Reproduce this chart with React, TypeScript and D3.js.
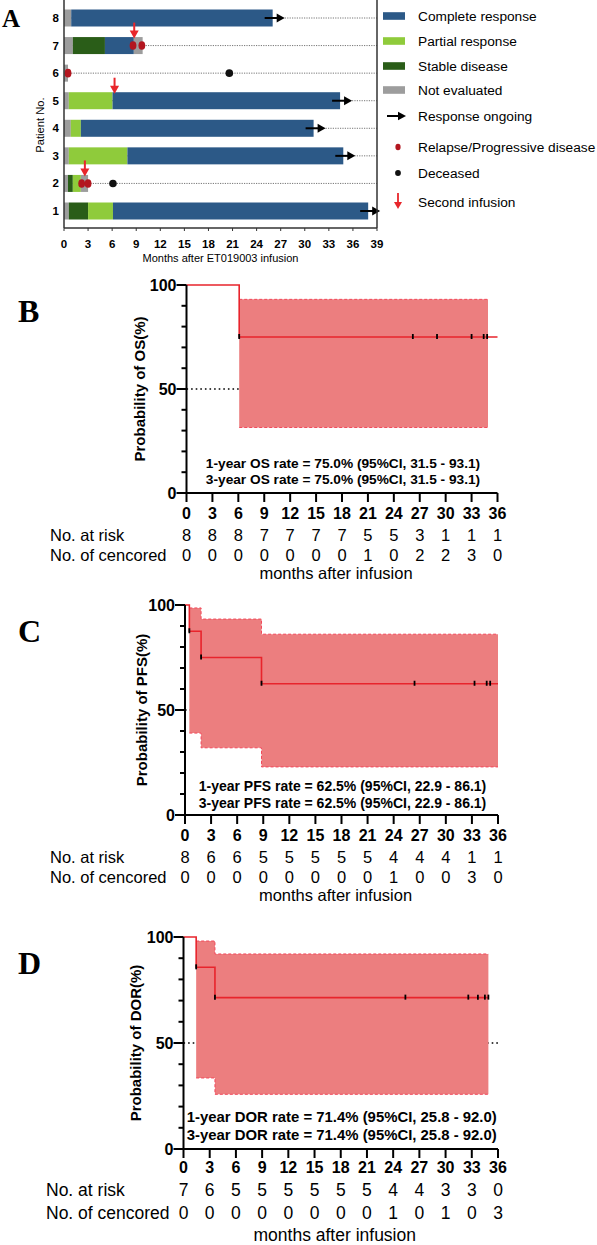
import React from 'react';
import * as d3 from 'd3';

// ---------- Panel A data ----------
const patientIds = [1, 2, 3, 4, 5, 6, 7, 8];
const swimTicks = d3.range(0, 40, 3);
// [patient, status, from(month), to(month)]
const swimSegments: [number, string, number, number][] = [
  [1, 'NE', 0, 0.6], [1, 'SD', 0.6, 3.0], [1, 'PR', 3.0, 6.1], [1, 'CR', 6.1, 37.9],
  [2, 'NE', 0, 0.5], [2, 'SD', 0.5, 1.1], [2, 'PR', 1.1, 2.1], [2, 'NE', 2.1, 3.0],
  [3, 'NE', 0, 0.6], [3, 'PR', 0.6, 7.9], [3, 'CR', 7.9, 34.8],
  [4, 'NE', 0, 0.85], [4, 'PR', 0.85, 2.1], [4, 'CR', 2.1, 31.1],
  [5, 'NE', 0, 0.6], [5, 'PR', 0.6, 6.05], [5, 'CR', 6.05, 34.4],
  [6, 'NE', 0, 0.5],
  [7, 'NE', 0, 1.1], [7, 'SD', 1.1, 5.1], [7, 'CR', 5.1, 8.7], [7, 'NE', 8.7, 9.8],
  [8, 'NE', 0, 0.9], [8, 'CR', 0.9, 26.0],
];
const ongoing: [number, number][] = [[1, 37.9], [3, 34.8], [4, 31.1], [5, 34.4], [8, 26.0]];
const relapse: [number, number][] = [[2, 2.2], [2, 3.0], [6, 0.5], [7, 8.6], [7, 9.7]];
const deceased: [number, number][] = [[2, 6.1], [6, 20.6]];
const secondInfusion: [number, number][] = [[2, 2.6], [5, 6.3], [7, 8.75]];
const legendLabels = ['Complete response', 'Partial response', 'Stable disease', 'Not evaluated',
  'Response ongoing', 'Relapse/Progressive disease', 'Deceased', 'Second infusion'];
const legendKinds = ['CR', 'PR', 'SD', 'NE', 'arrow', 'relapse', 'dead', 'infusion'];

const STATUS_COLORS: Record<string, string> = { CR: '#2C5987', PR: '#8FCB3B', SD: '#2A5D18', NE: '#9D9D9D' };

// ---------- KM data ----------
const kmTicks = d3.range(0, 37, 3);

const osStepT = [0, 6.1];
const osStepS = [100, 75];
const osEnd = 36;
const osCensor = [6.1, 26.2, 29.0, 33.0, 34.4, 34.8];
const osCiT = [6.1];
const osCiU = [93.1];
const osCiL = [31.5];
const osCiEnd = 34.9;
const osRisk = [8, 8, 8, 7, 7, 7, 7, 5, 5, 3, 1, 1, 1];
const osCens = [0, 0, 0, 0, 0, 0, 0, 1, 0, 2, 2, 3, 0];
const osRefLine = [0, 6.1];

const pfsStepT = [0, 0.5, 1.85, 8.8];
const pfsStepS = [100, 87.5, 75, 62.5];
const pfsEnd = 36;
const pfsCensor = [0.5, 1.85, 8.8, 26.4, 33.3, 34.7, 35.1];
const pfsCiT = [0.5, 1.85, 8.8];
const pfsCiU = [98.6, 93.3, 86.1];
const pfsCiL = [39.0, 32.0, 22.9];
const pfsCiEnd = 36;
const pfsRisk = [8, 6, 6, 5, 5, 5, 5, 5, 4, 4, 4, 1, 1];
const pfsCens = [0, 0, 0, 0, 0, 0, 0, 0, 1, 0, 0, 3, 0];
const pfsRefLine = [0, 36];

const dorStepT = [0, 1.45, 3.6];
const dorStepS = [100, 85.7, 71.4];
const dorEnd = 34.9;
const dorCensor = [1.45, 3.6, 25.4, 32.6, 33.7, 34.5, 34.9];
const dorCiT = [1.45, 3.6];
const dorCiU = [98.1, 92.0];
const dorCiL = [33.5, 25.8];
const dorCiEnd = 34.9;
const dorRisk = [7, 6, 5, 5, 5, 5, 5, 5, 4, 4, 3, 3, 0];
const dorCens = [0, 0, 0, 0, 0, 0, 0, 0, 1, 0, 1, 0, 3];
const dorRefLine = [0, 36];

const SANS = 'Liberation Sans, Arial, sans-serif';
const SERIF = 'Liberation Serif, Times New Roman, serif';
const RED = '#E8242C';
const BAND = '#EC7E7F';
const BAND_EDGE = '#F2485A';

function SwimPanel() {
  const x = d3.scaleLinear().domain([0, 39]).range([64, 377]);
  const y = d3.scaleLinear().domain([1, 8]).range([211, 18]);
  const bh = 17;
  const bottom = 228;
  const legendY = [16, 41, 66, 90, 116, 147, 173, 202];
  return (
    <g>
      <text x={2} y={27} fontFamily={SERIF} fontWeight="bold" fontSize={25}>A</text>
      {patientIds.map(p => (
        <line key={'dl' + p} x1={x(0)} x2={x(39)} y1={y(p)} y2={y(p)} stroke="#666" strokeWidth={0.9} strokeDasharray="1.2,1.2" />
      ))}
      {swimSegments.map((s, i) => (
        <rect key={'s' + i} x={x(s[2])} y={y(s[0]) - bh / 2} width={x(s[3]) - x(s[2])} height={bh} fill={STATUS_COLORS[s[1]]} />
      ))}
      {ongoing.map(([p, t], i) => {
        const xe = x(t);
        const yc = y(p);
        return (
          <g key={'og' + i}>
            <line x1={xe - 8} x2={xe + 6} y1={yc} y2={yc} stroke="#000" strokeWidth={2} />
            <polygon points={`${xe + 12},${yc} ${xe + 4},${yc - 4.5} ${xe + 4},${yc + 4.5}`} fill="#000" />
          </g>
        );
      })}
      {relapse.map(([p, t], i) => (
        <ellipse key={'r' + i} cx={x(t)} cy={y(p)} rx={3.4} ry={4.3} fill="#B3161F" />
      ))}
      {deceased.map(([p, t], i) => (
        <circle key={'d' + i} cx={x(t)} cy={y(p)} r={3.8} fill="#111" />
      ))}
      {secondInfusion.map(([p, t], i) => {
        const xc = x(t);
        const tip = y(p) - 7;
        return (
          <g key={'si' + i}>
            <line x1={xc} x2={xc} y1={tip - 16} y2={tip - 6} stroke="#E8262B" strokeWidth={2} />
            <polygon points={`${xc},${tip} ${xc - 4.5},${tip - 8} ${xc + 4.5},${tip - 8}`} fill="#E8262B" />
          </g>
        );
      })}
      <line x1={x(0)} x2={x(0)} y1={0} y2={bottom} stroke="#333" strokeWidth={1.5} />
      <line x1={x(39)} x2={x(39)} y1={0} y2={bottom} stroke="#333" strokeWidth={1.5} />
      <line x1={x(0)} x2={x(39)} y1={bottom} y2={bottom} stroke="#333" strokeWidth={1.5} />
      {swimTicks.map(t => (
        <g key={'xt' + t}>
          <line x1={x(t)} x2={x(t)} y1={bottom} y2={bottom + 3} stroke="#333" strokeWidth={1} />
          <text x={x(t)} y={248} textAnchor="middle" fontFamily={SANS} fontWeight="bold" fontSize={11.5}>{t}</text>
        </g>
      ))}
      {patientIds.map(p => (
        <text key={'yt' + p} x={59} y={y(p) + 4} textAnchor="end" fontFamily={SANS} fontWeight="bold" fontSize={11.5}>{p}</text>
      ))}
      <text transform={`translate(44,125) rotate(-90)`} textAnchor="middle" fontFamily={SANS} fontSize={11.2}>Patient No.</text>
      <text x={(x(0) + x(39)) / 2} y={262} textAnchor="middle" fontFamily={SANS} fontSize={11}>Months after ET019003 infusion</text>
      {legendLabels.map((lab, i) => {
        const ly = legendY[i];
        const kind = legendKinds[i];
        let sym: React.ReactNode = null;
        if (STATUS_COLORS[kind]) sym = <rect x={383} y={ly - 3.8} width={22} height={7.6} fill={STATUS_COLORS[kind]} />;
        else if (kind === 'arrow') sym = (
          <g>
            <line x1={387} x2={401} y1={ly} y2={ly} stroke="#000" strokeWidth={2} />
            <polygon points={`406,${ly} 398,${ly - 4.2} 398,${ly + 4.2}`} fill="#000" />
          </g>
        );
        else if (kind === 'relapse') sym = <ellipse cx={398} cy={ly} rx={2.6} ry={3.3} fill="#B3161F" />;
        else if (kind === 'dead') sym = <circle cx={398} cy={ly} r={2.9} fill="#111" />;
        else sym = (
          <g>
            <line x1={398} x2={398} y1={ly - 9} y2={ly + 1} stroke="#E8262B" strokeWidth={1.8} />
            <polygon points={`398,${ly + 7} 394,${ly} 402,${ly}`} fill="#E8262B" />
          </g>
        );
        return (
          <g key={'lg' + i}>
            {sym}
            <text x={418} y={ly + 5} fontFamily={SANS} fontSize={13.7}>{lab}</text>
          </g>
        );
      })}
    </g>
  );
}

type KMProps = {
  letter: string; ylabel: string; ann1: string; ann2: string;
  x0: number; x36: number; y100: number; y0: number;
  stepT: number[]; stepS: number[]; endT: number; censorT: number[];
  ciT: number[]; ciU: number[]; ciL: number[]; ciEnd: number; refLine: number[];
  risk: number[]; cens: number[];
  off: { tick: number; risk: number; cens: number; title: number };
  fs: number; annFs: number; annY: number; ylabX: number; rowX: number;
};

function KMPanel(p: KMProps) {
  const x = d3.scaleLinear().domain([0, 36]).range([p.x0, p.x36]);
  const y = d3.scaleLinear().domain([0, 100]).range([p.y0, p.y100]);
  const pts: [number, number][] = p.stepT.map((t, i) => [t, p.stepS[i]]);
  pts.push([p.endT, p.stepS[p.stepS.length - 1]]);
  const line = d3.line<[number, number]>().x(d => x(d[0])).y(d => y(d[1])).curve(d3.curveStepAfter);
  const ciPts = p.ciT.map((t, i) => ({ t, u: p.ciU[i], l: p.ciL[i] }));
  ciPts.push({ t: p.ciEnd, u: p.ciU[p.ciU.length - 1], l: p.ciL[p.ciL.length - 1] });
  const area = d3.area<{ t: number; u: number; l: number }>().x(d => x(d.t)).y0(d => y(d.l)).y1(d => y(d.u)).curve(d3.curveStepAfter);
  const upLine = d3.line<{ t: number; u: number; l: number }>().x(d => x(d.t)).y(d => y(d.u)).curve(d3.curveStepAfter);
  const loLine = d3.line<{ t: number; u: number; l: number }>().x(d => x(d.t)).y(d => y(d.l)).curve(d3.curveStepAfter);
  const survAt = (t: number) => p.stepS[Math.max(0, d3.bisectRight(p.stepT, t) - 1)];
  const cx = (p.x0 + p.x36) / 2;
  return (
    <g>
      <text x={18} y={p.y100 + 37} fontFamily={SERIF} fontWeight="bold" fontSize={32}>{p.letter}</text>
      <line x1={x(p.refLine[0])} x2={x(p.refLine[1])} y1={y(50)} y2={y(50)} stroke="#000" strokeWidth={1.4} strokeDasharray="1.6,3" />
      <path d={area(ciPts) || ''} fill={BAND} />
      <path d={upLine(ciPts) || ''} fill="none" stroke={BAND_EDGE} strokeWidth={1} strokeDasharray="3,2" />
      <path d={loLine(ciPts) || ''} fill="none" stroke={BAND_EDGE} strokeWidth={1} strokeDasharray="3,2" />
      <path d={line(pts) || ''} fill="none" stroke={RED} strokeWidth={1.6} />
      {p.censorT.map((t, i) => (
        <line key={'c' + i} x1={x(t)} x2={x(t)} y1={y(survAt(t)) - 3} y2={y(survAt(t)) + 2} stroke="#000" strokeWidth={1.8} />
      ))}
      <line x1={p.x0} x2={p.x0} y1={p.y100} y2={p.y0} stroke="#000" strokeWidth={2} />
      <line x1={p.x0} x2={x(36)} y1={p.y0} y2={p.y0} stroke="#000" strokeWidth={2} />
      {d3.range(0, 101, 10).map(v => (
        <line key={'yt' + v} x1={p.x0 - (v % 50 === 0 ? 10 : 5)} x2={p.x0} y1={y(v)} y2={y(v)} stroke="#000" strokeWidth={2} />
      ))}
      {[0, 50, 100].map(v => (
        <text key={'yl' + v} x={p.x0 - 10} y={y(v) + 5.5} textAnchor="end" fontFamily={SANS} fontWeight="bold" fontSize={16}>{v}</text>
      ))}
      {kmTicks.map((t, i) => (
        <g key={'xt' + t}>
          <line x1={x(t)} x2={x(t)} y1={p.y0} y2={p.y0 + 9} stroke="#000" strokeWidth={2} />
          <text x={x(t)} y={p.y0 + p.off.tick + 6} textAnchor="middle" fontFamily={SANS} fontWeight="bold" fontSize={16}>{t}</text>
          <text x={x(t)} y={p.y0 + p.off.risk + 5.5} textAnchor="middle" fontFamily={SANS} fontSize={p.fs}>{p.risk[i]}</text>
          <text x={x(t)} y={p.y0 + p.off.cens + 5.5} textAnchor="middle" fontFamily={SANS} fontSize={p.fs}>{p.cens[i]}</text>
        </g>
      ))}
      <text x={p.rowX} y={p.y0 + p.off.risk + 5.5} fontFamily={SANS} fontSize={p.fs}>No. at risk</text>
      <text x={p.rowX} y={p.y0 + p.off.cens + 5.5} fontFamily={SANS} fontSize={p.fs}>No. of cencored</text>
      <text x={cx - 6} y={p.y0 + p.off.title + 5.5} textAnchor="middle" fontFamily={SANS} fontSize={p.fs}>months after infusion</text>
      <text transform={`translate(${p.ylabX},${y(50)}) rotate(-90)`} textAnchor="middle" fontFamily={SANS} fontWeight="bold" fontSize={15}>{p.ylabel}</text>
      <text x={cx + 1} y={p.annY} textAnchor="middle" fontFamily={SANS} fontWeight="bold" fontSize={p.annFs}>{p.ann1}</text>
      <text x={cx + 1} y={p.annY + p.annFs * 1.2} textAnchor="middle" fontFamily={SANS} fontWeight="bold" fontSize={p.annFs}>{p.ann2}</text>
    </g>
  );
}

export default function App() {
  return (
    <svg width={597} height={1245} style={{ position: 'absolute', left: 0, top: 0, background: '#fff' }}>
      <rect x={0} y={0} width={597} height={1245} fill="#fff" />
      <SwimPanel />
      <KMPanel letter="B" ylabel="Probability of OS(%)"
        ann1="1-year OS rate = 75.0% (95%CI, 31.5 - 93.1)" ann2="3-year OS rate = 75.0% (95%CI, 31.5 - 93.1)"
        x0={186.5} x36={497.5} y100={285} y0={493}
        stepT={osStepT} stepS={osStepS} endT={osEnd} censorT={osCensor}
        ciT={osCiT} ciU={osCiU} ciL={osCiL} ciEnd={osCiEnd} refLine={osRefLine}
        risk={osRisk} cens={osCens}
        off={{ tick: 20, risk: 42, cens: 62, title: 80 }} fs={16.5} annFs={13.7} annY={468} ylabX={145} rowX={50} />
      <KMPanel letter="C" ylabel="Probability of PFS(%)"
        ann1="1-year PFS rate = 62.5% (95%CI, 22.9 - 86.1)" ann2="3-year PFS rate = 62.5% (95%CI, 22.9 - 86.1)"
        x0={185} x36={498} y100={605} y0={815}
        stepT={pfsStepT} stepS={pfsStepS} endT={pfsEnd} censorT={pfsCensor}
        ciT={pfsCiT} ciU={pfsCiU} ciL={pfsCiL} ciEnd={pfsCiEnd} refLine={pfsRefLine}
        risk={pfsRisk} cens={pfsCens}
        off={{ tick: 20, risk: 42, cens: 62, title: 80 }} fs={16.5} annFs={14} annY={791} ylabX={147} rowX={50} />
      <KMPanel letter="D" ylabel="Probability of DOR(%)"
        ann1="1-year DOR rate = 71.4% (95%CI, 25.8 - 92.0)" ann2="3-year DOR rate = 71.4% (95%CI, 25.8 - 92.0)"
        x0={183.5} x36={498} y100={937} y0={1149}
        stepT={dorStepT} stepS={dorStepS} endT={dorEnd} censorT={dorCensor}
        ciT={dorCiT} ciU={dorCiU} ciL={dorCiL} ciEnd={dorCiEnd} refLine={dorRefLine}
        risk={dorRisk} cens={dorCens}
        off={{ tick: 18, risk: 41, cens: 64, title: 86.5 }} fs={17.5} annFs={14.9} annY={1122} ylabX={141} rowX={46} />
    </svg>
  );
}
